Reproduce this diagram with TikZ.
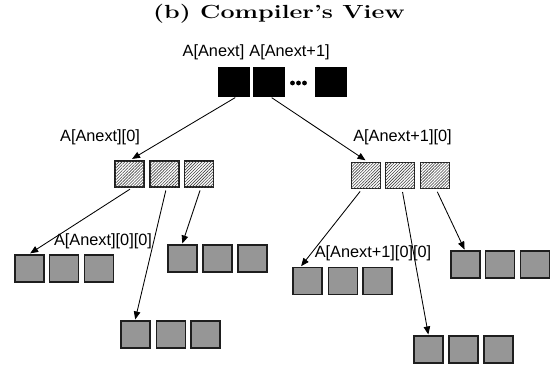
\documentclass[tikz,border=0pt]{standalone}
\usepackage{fontspec}
\setsansfont{Liberation Sans}
\usetikzlibrary{arrows.meta,patterns.meta}
\definecolor{cellgray}{RGB}{150,150,150}
\definecolor{edgegray}{RGB}{30,30,30}
\tikzset{
  cell/.style={draw=edgegray,line width=1.1pt,inner sep=0pt,minimum width=29pt,minimum height=27pt},
  topcell/.style={cell,fill=black,draw=black,minimum width=30pt,minimum height=28pt},
  hatchcell/.style={cell,minimum height=26pt,fill=white,
    postaction={pattern={Lines[angle=45,distance=2.1pt,line width=0.6pt]},pattern color=black!75}},
  graycell/.style={cell,fill=cellgray},
  lbl/.style={font=\sffamily\fontsize{16.3}{18}\selectfont,inner sep=0pt},
  ptr/.style={line width=0.85pt,-{Triangle[length=8pt,width=6.5pt]}}
}
\begin{document}
\begin{tikzpicture}[x=1pt,y=-1pt]
\useasboundingbox (0,0) rectangle (550,367);

% heading
\node[font=\bfseries\fontsize{19}{22}\selectfont,xscale=1.32,inner sep=0pt] (title) at (279,14) {(b) Compiler's View};

% first dimension: array of pointers
\node[topcell] (b1) at (234,82) {};
\node[topcell] (b2) at (269,82) {};
\node[topcell] (b3) at (331,82) {};
\foreach \i/\x in {1/292.5,2/298.5,3/304.5}
  \fill (\x,83) circle (2.4pt) coordinate (dot\i);

\node[lbl] (lb1) at (213.5,52) {A[Anext]};
\node[lbl] (lb2) at (289.5,52) {A[Anext+1]};

% second dimension: hatched rows
\node[hatchcell] (m1) at (129.5,174) {};
\node[hatchcell] (m2) at (164.5,174) {};
\node[hatchcell] (m3) at (199,174) {};
\node[hatchcell] (n1) at (366,175.5) {};
\node[hatchcell] (n2) at (400,175.5) {};
\node[hatchcell] (n3) at (435,175.5) {};

\node[lbl] (lm) at (100,137) {A[Anext][0]};
\node[lbl] (ln) at (402.5,137) {A[Anext+1][0]};

% third dimension: gray rows
\node[graycell] (la1) at (29.5,268.5) {};
\node[graycell] (la2) at (64,268.5) {};
\node[graycell] (la3) at (99,268.5) {};

\node[graycell] (lb1c) at (182.5,258.5) {};
\node[graycell] (lb2c) at (217.5,258.5) {};
\node[graycell] (lb3c) at (252.5,258.5) {};

\node[graycell] (lc1) at (135.5,334.5) {};
\node[graycell] (lc2) at (171,334.5) {};
\node[graycell] (lc3) at (205.5,334.5) {};

\node[graycell] (ra1) at (307.5,281) {};
\node[graycell] (ra2) at (343,281) {};
\node[graycell] (ra3) at (377.5,281) {};

\node[graycell] (rb1) at (465.5,264.5) {};
\node[graycell] (rb2) at (500,264.5) {};
\node[graycell] (rb3) at (535,264.5) {};

\node[graycell] (rc1) at (428.5,349.5) {};
\node[graycell] (rc2) at (463.5,349.5) {};
\node[graycell] (rc3) at (498.5,349.5) {};

\node[lbl] (lla) at (103,241) {A[Anext][0][0]};
\node[lbl] (lra) at (373,253) {A[Anext+1][0][0]};

% pointers
\draw[ptr,shorten <=2pt,shorten >=3pt] ([xshift=3pt]b1.south) -- (m1.north);
\draw[ptr,shorten <=2pt,shorten >=3pt] ([xshift=1pt]b2.south) -- ([xshift=2pt]n1.north);

\draw[ptr,shorten <=3pt,shorten >=2pt] ([xshift=3pt]m1.south) -- ([xshift=-1pt]la1.north);
\draw[ptr,shorten <=3pt,shorten >=1pt] ([xshift=2pt]m2.south) -- ([xshift=-0.5pt]lc1.north);
\draw[ptr,shorten <=3pt,shorten >=1pt] ([xshift=2pt]m3.south) -- ([xshift=-0.5pt]lb1c.north);

\draw[ptr,shorten <=3pt,shorten >=1pt] ([xshift=-4pt]n1.south) -- ([xshift=-7pt]ra1.north);
\draw[ptr,shorten <=3pt,shorten >=1pt] ([xshift=2pt]n2.south) -- ([xshift=0pt]rc1.north);
\draw[ptr,shorten <=3pt,shorten >=1pt] ([xshift=1pt]n3.south) -- ([xshift=-0.5pt]rb1.north);
\end{tikzpicture}
\end{document}
